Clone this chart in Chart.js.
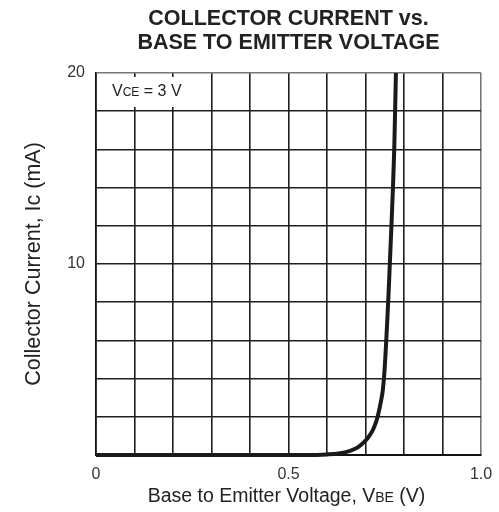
<!doctype html>
<html>
<head>
  <meta charset="utf-8">
  <style>
    html, body { margin: 0; padding: 0; background: #fff; }
    #wrap { width: 499px; height: 512px; }
  </style>
</head>
<body>
  <div id="wrap"><canvas id="icChart" width="499" height="512"></canvas></div>

  <script src="https://cdn.jsdelivr.net/npm/chart.js"></script>
  <script>
    // curve
    var vbe = [0, 0.55, 0.60, 0.63, 0.66, 0.68, 0.70, 0.71, 0.72, 0.73, 0.74, 0.745, 0.75, 0.76, 0.768, 0.775, 0.779];
    var ic = [0, 0, 0.03, 0.08, 0.22, 0.4, 0.75, 1.0, 1.35, 1.9, 2.8, 3.4, 4.6, 8.5, 12.3, 16.3, 20];
    var xLabels = { 0: '0', 5: '0.5', 10: '1.0' };
    var yLabels = { 10: '10', 20: '20' };

    var FONT = '"Liberation Sans", Arial, sans-serif';

    var points = vbe.map(function (v, i) { return { x: v, y: ic[i] }; });

    // text with a smaller subscript part
    function drawParts(ctx, parts, x, y, align) {
      var total = 0;
      parts.forEach(function (p) {
        ctx.font = p.font;
        p.w = ctx.measureText(p.t).width;
        total += p.w;
      });
      var cx = align === 'center' ? x - total / 2 : x;
      parts.forEach(function (p) {
        ctx.font = p.font;
        ctx.textAlign = 'left';
        ctx.fillText(p.t, cx, y + (p.dy || 0));
        cx += p.w;
      });
    }

    var labelsPlugin = {
      id: 'labels',
      beforeDatasetsDraw: function (chart) {
        var ctx = chart.ctx;
        ctx.save();
        ctx.fillStyle = '#fff';
        ctx.fillRect(100, 77, 104, 30);
        ctx.fillStyle = '#222';
        ctx.textBaseline = 'middle';
        drawParts(ctx, [
          { t: 'V', font: '16px ' + FONT },
          { t: 'CE', font: '12px ' + FONT, dy: 1 },
          { t: ' = 3 V', font: '16px ' + FONT }
        ], 112, 92, 'left');
        ctx.restore();
      },
      afterDraw: function (chart) {
        var ctx = chart.ctx;
        var a = chart.chartArea;
        var mid = (a.left + a.right) / 2;
        ctx.save();
        ctx.fillStyle = '#222';
        ctx.textBaseline = 'middle';
        ctx.textAlign = 'center';
        ctx.font = 'bold 21.5px ' + FONT;
        ctx.fillText('COLLECTOR CURRENT vs.', mid, 19);
        ctx.fillText('BASE TO EMITTER VOLTAGE', mid, 43);

        drawParts(ctx, [
          { t: 'Base to Emitter Voltage, V', font: '19.5px ' + FONT },
          { t: 'BE', font: '14px ' + FONT, dy: 1 },
          { t: ' (V)', font: '19.5px ' + FONT }
        ], mid - 2, 497, 'center');

        ctx.translate(34, (a.top + a.bottom) / 2);
        ctx.rotate(-Math.PI / 2);
        ctx.textAlign = 'center';
        ctx.font = '21.5px ' + FONT;
        ctx.fillText('Collector Current, Ic (mA)', 0, 0);
        ctx.restore();
      }
    };

    var ctx = document.getElementById('icChart').getContext('2d');
    var icChart = new Chart(ctx, {
      type: 'line',
      data: {
        datasets: [{
          data: points,
          borderColor: '#1a1a1a',
          borderWidth: 4,
          pointRadius: 0,
          cubicInterpolationMode: 'monotone',
          clip: false
        }]
      },
      options: {
        responsive: false,
        animation: false,
        layout: { padding: { top: 73, right: 18, left: 0, bottom: 0 } },
        plugins: { legend: { display: false }, tooltip: { enabled: false } },
        scales: {
          x: {
            type: 'linear',
            min: 0,
            max: 1,
            afterFit: function (s) { s.height = 57; s.paddingRight = 0; s.paddingLeft = 0; },
            ticks: {
              stepSize: 0.1,
              padding: 10,
              color: '#333',
              font: { family: FONT, size: 16 },
              maxRotation: 0,
              autoSkip: false,
              callback: function (v) {
                var k = Math.round(v * 10);
                return xLabels[k] || '';
              }
            },
            grid: {
              drawTicks: false,
              lineWidth: 1.6,
              color: function (c) { return c.tick && Math.round(c.tick.value * 10) === 10 ? '#777' : '#1e1e1e'; }
            },
            border: { color: '#111', width: 2 }
          },
          y: {
            min: 0,
            max: 20,
            afterFit: function (s) { s.width = 96; s.paddingTop = 0; s.paddingBottom = 0; },
            ticks: {
              stepSize: 2,
              padding: 11,
              color: '#333',
              font: { family: FONT, size: 16 },
              callback: function (v) { return yLabels[v] || ''; }
            },
            grid: {
              drawTicks: false,
              lineWidth: 1.6,
              color: function (c) { return c.tick && c.tick.value === 20 ? '#777' : '#1e1e1e'; }
            },
            border: { color: '#111', width: 1.6 }
          }
        }
      },
      plugins: [labelsPlugin]
    });
  </script>
</body>
</html>
